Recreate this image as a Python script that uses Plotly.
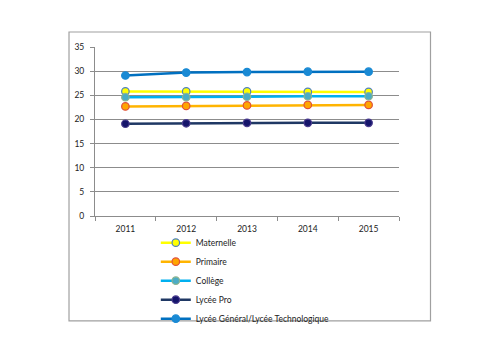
import plotly.graph_objects as go

years = ["2011", "2012", "2013", "2014", "2015"]
maternelle = [25.8, 25.8, 25.8, 25.7, 25.7]
primaire = [22.7, 22.8, 22.9, 23.0, 23.0]
college = [24.6, 24.6, 24.7, 24.8, 24.8]
lycee_pro = [19.1, 19.2, 19.3, 19.3, 19.3]
lycee_gt = [29.1, 29.7, 29.8, 29.9, 29.9]

series = [
    ("Maternelle", maternelle, "#FFFF00", "#FFFF00", "#4F81BD"),
    ("Primaire", primaire, "#FFB400", "#FFA500", "#E0503A"),
    ("Collège", college, "#00B0F0", "#4BACC6", "#8DB48E"),
    ("Lycée Pro", lycee_pro, "#1F3864", "#15156B", "#4B3D8F"),
    ("Lycée Général/Lycée Technologique", lycee_gt, "#0070C0", "#1A8AD4", "#1A8AD4"),
]

fig = go.Figure()
for name, vals, lc, mc, oc in series:
    fig.add_trace(go.Scatter(
        x=years, y=vals, name=name, mode="lines+markers",
        line=dict(color=lc, width=2.5),
        marker=dict(size=7.5, color=mc, line=dict(color=oc, width=1.2)),
    ))

font = "Lato, 'Open Sans', sans-serif"
fig.update_layout(
    width=500, height=354,
    margin=dict(l=95, r=101, t=47, b=138),
    paper_bgcolor="white", plot_bgcolor="white",
    font=dict(family=font, size=8.5, color="#222222"),
    showlegend=True,
    legend=dict(x=0.2, y=-0.072, xanchor="left", yanchor="top",
                orientation="v", font=dict(size=8.5), tracegroupgap=0,
                bgcolor="rgba(0,0,0,0)"),
    shapes=[dict(type="rect", xref="paper", yref="paper",
                 x0=-0.0855, x1=1.1036, y0=-0.621, y1=1.0888,
                 line=dict(color="#A0A0A0", width=1.2), fillcolor="rgba(0,0,0,0)")],
)
fig.update_yaxes(range=[0, 35], dtick=5, showgrid=True, gridcolor="#8C8C8C", gridwidth=1,
                 showline=True, linecolor="#8C8C8C", linewidth=1,
                 ticks="outside", ticklen=4, tickcolor="#8C8C8C", ticklabelstandoff=4,
                 zeroline=False, tickfont=dict(size=8.5))
fig.update_xaxes(type="category", showline=True, linecolor="#8C8C8C", linewidth=1,
                 ticks="outside", ticklen=4, tickcolor="#8C8C8C", tickson="boundaries",
                 ticklabelstandoff=5,
                 showgrid=False, tickfont=dict(size=8.5), range=[-0.5, 4.5])

fig.write_html("out.html")
